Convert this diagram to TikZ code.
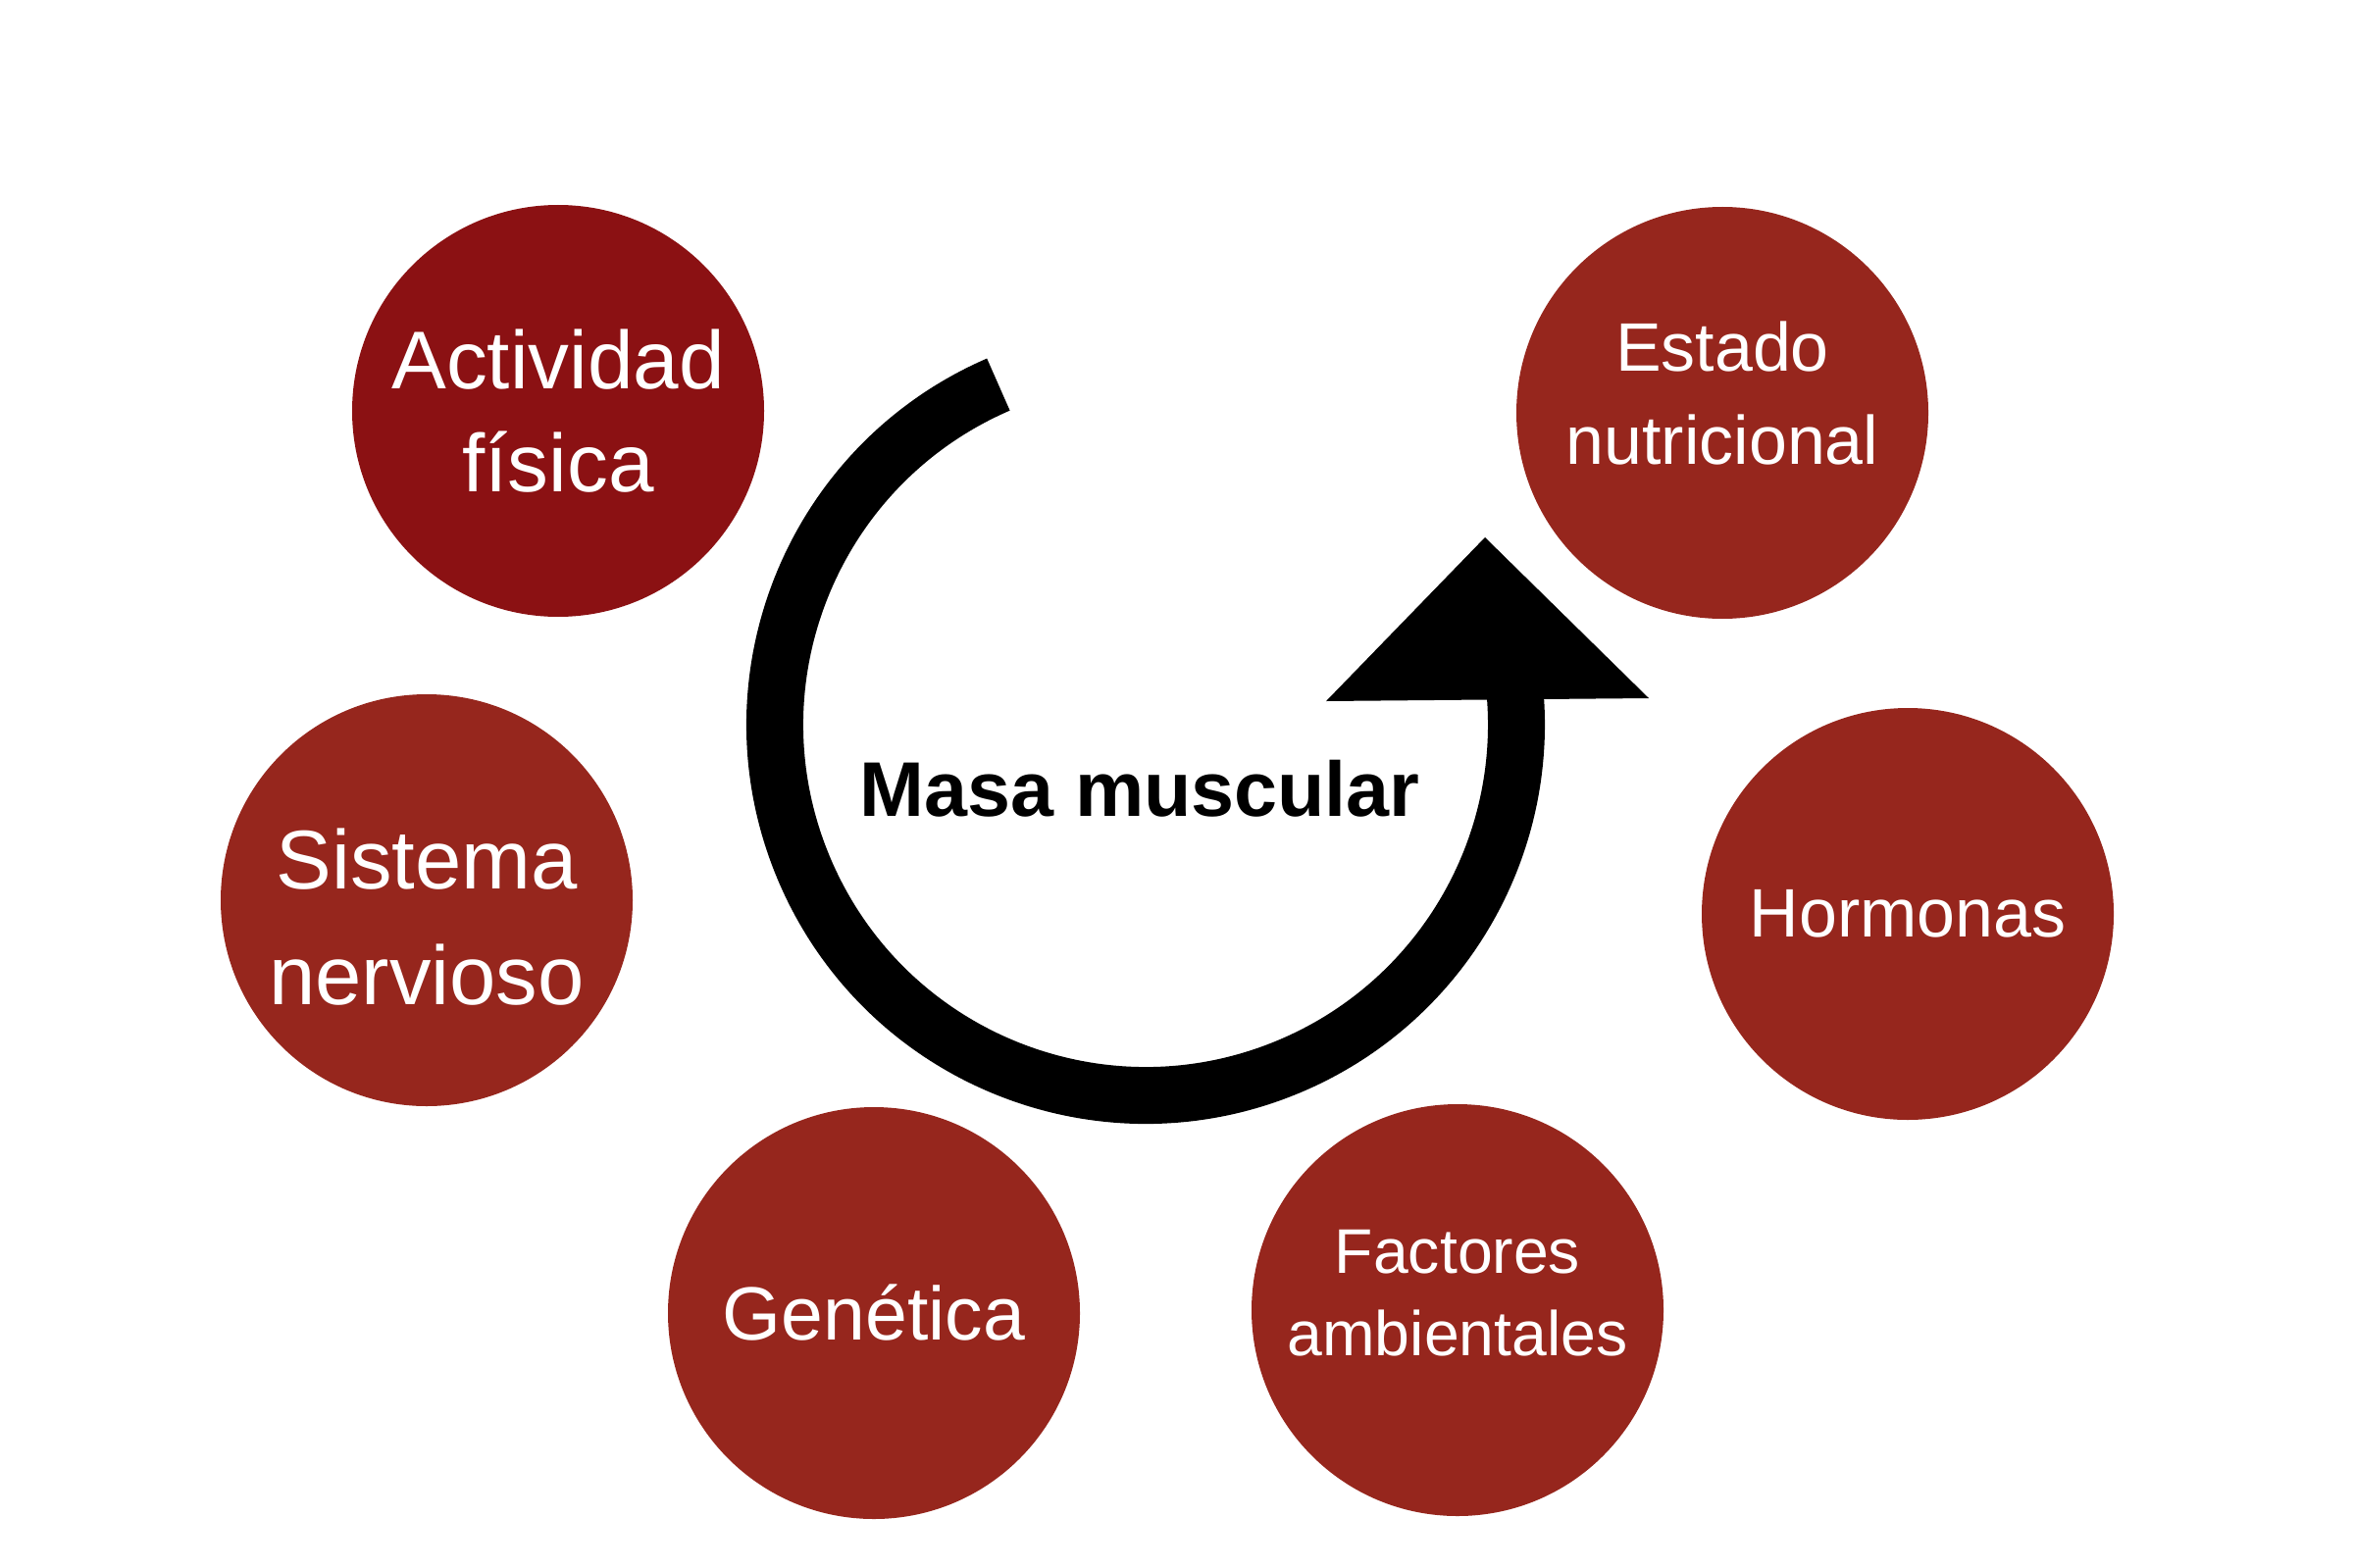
\documentclass[tikz,border=0pt]{standalone}
\usepackage{fontspec}
\setmainfont{Liberation Sans}
\usepackage{tikz}

\definecolor{actred}{RGB}{139,17,19}
\definecolor{factred}{RGB}{150,38,29}

\tikzset{
    factor/.style={circle, fill=factred, text=white, minimum size=4.2cm, inner sep=0pt, align=center}
}

\begin{document}
\begin{tikzpicture}
    \useasboundingbox (0,0) rectangle (24,15.98);

    % Circles
    \node[factor, fill=actred, font=\fontsize{23.8}{30}\selectfont] (actividad) at (5.69,11.79) {Actividad\\física};
    \node[factor, font=\fontsize{19.9}{27}\selectfont] (estado) at (17.56,11.77) {Estado\\nutricional\\[-0.55cm]};
    \node[factor, font=\fontsize{24.2}{33.6}\selectfont] (sistema) at (4.35,6.80) {\rule{0pt}{0.95cm}Sistema\\nervioso};
    \node[factor, font=\fontsize{19.9}{24}\selectfont] (hormonas) at (19.45,6.66) {Hormonas};
    \node[factor, font=\fontsize{21.9}{26}\selectfont] (genetica) at (8.91,2.59) {Genética};
    \node[factor, font=\fontsize{18.3}{23.9}\selectfont] (factores) at (14.86,2.62) {Factores\\ambientales\\[-0.48cm]};

    % Circular arrow
    \draw[line width=0.58cm] (11.68,8.59) ++(113.4:3.78) arc[start angle=113.4, end angle=366, radius=3.78];
    \fill (15.14,10.50) -- (13.52,8.83) -- (16.81,8.86) -- cycle;

    % Centre text
    \node[font=\fontsize{22.5}{27}\selectfont\bfseries] (masa) at (11.62,7.94) {Masa muscular};
\end{tikzpicture}
\end{document}
